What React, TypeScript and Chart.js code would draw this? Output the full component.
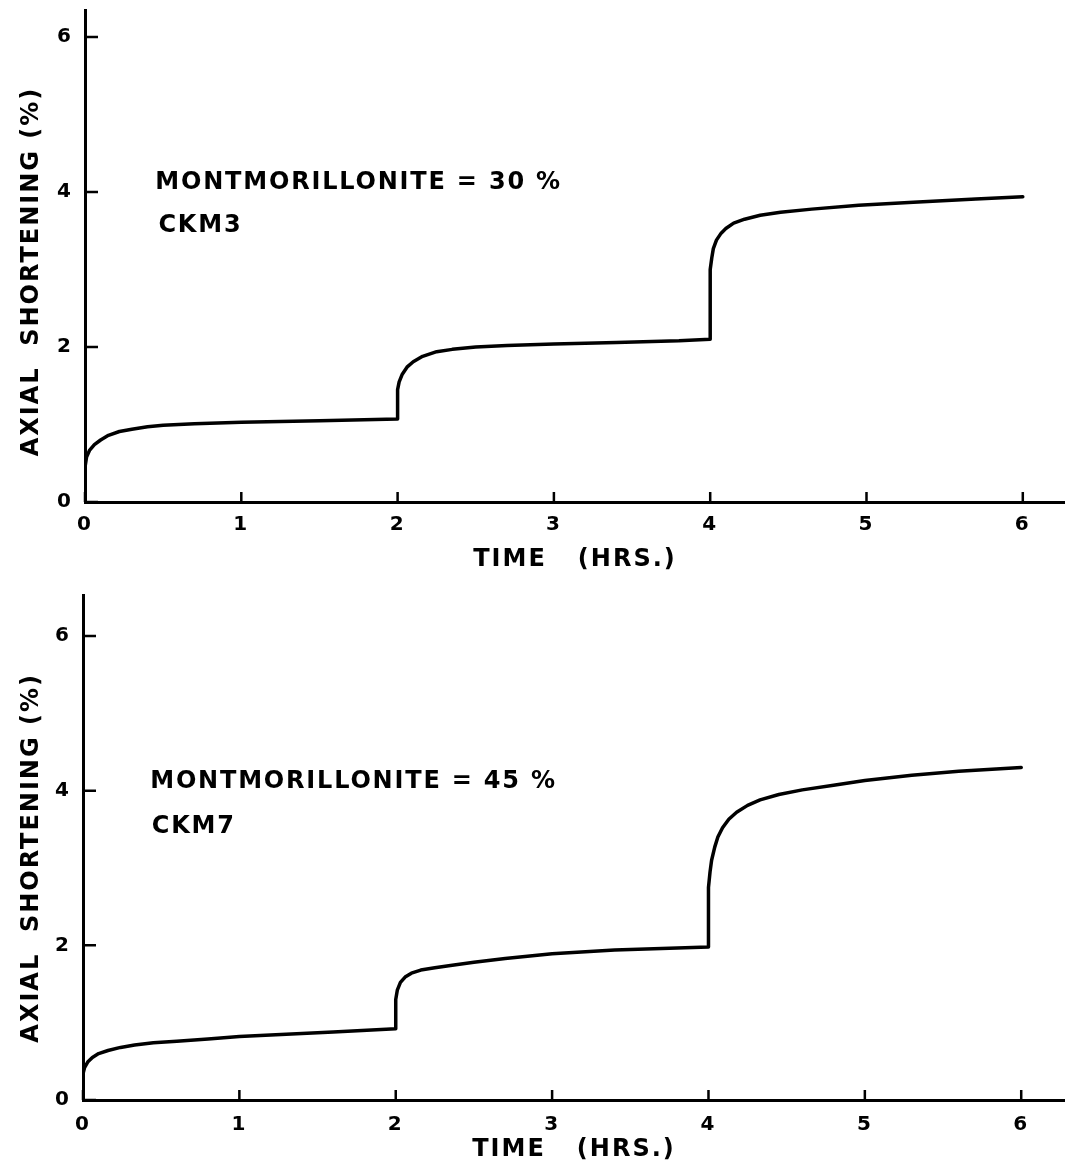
import React, { useEffect, useRef } from "react";
import { Chart, registerables } from "chart.js";

Chart.register(...registerables);

// ---------- data ----------
const X_TICKS = [0, 1, 2, 3, 4, 5, 6];
const Y_TICKS = [0, 2, 4, 6];
const X_TITLE_TOP = "TIME   (HRS.)";
const X_TITLE_BOTTOM = "TIME   (HRS.)";
const Y_TITLE_TOP = "AXIAL  SHORTENING (%)   ";
const Y_TITLE_BOTTOM = "AXIAL  SHORTENING (%)  ";

// CKM3, montmorillonite 30 %
const TIME_TOP = [
  0, 0.01, 0.03, 0.06, 0.1, 0.15, 0.22, 0.3, 0.4, 0.5, 0.7, 1.0, 1.5, 2.0,
  2.0, 2.01, 2.03, 2.06, 2.1, 2.16, 2.25, 2.35, 2.5, 2.7, 3.0, 3.4, 3.8, 4.0,
  4.0, 4.01, 4.02, 4.04, 4.07, 4.1, 4.15, 4.22, 4.32, 4.45, 4.65, 4.95, 5.3, 5.7, 6.0,
];
const SHORT_TOP = [
  0.45, 0.58, 0.67, 0.74, 0.8, 0.86, 0.91, 0.94, 0.97, 0.99, 1.01, 1.03, 1.05, 1.07,
  1.45, 1.55, 1.65, 1.74, 1.81, 1.88, 1.94, 1.97, 2.0, 2.02, 2.04, 2.06, 2.08, 2.1,
  3.0, 3.15, 3.27, 3.38, 3.47, 3.53, 3.6, 3.65, 3.7, 3.74, 3.78, 3.83, 3.87, 3.91, 3.94,
];

// CKM7, montmorillonite 45 %
const TIME_BOTTOM = [
  0, 0.01, 0.03, 0.06, 0.1, 0.16, 0.24, 0.33, 0.45, 0.6, 0.8, 1.0, 1.3, 1.6, 2.0,
  2.0, 2.01, 2.03, 2.06, 2.1, 2.16, 2.25, 2.35, 2.5, 2.7, 3.0, 3.4, 4.0,
  4.0, 4.01, 4.02, 4.04, 4.06, 4.09, 4.13, 4.18, 4.25, 4.33, 4.45, 4.6, 4.8, 5.0, 5.3, 5.6, 6.0,
];
const SHORT_BOTTOM = [
  0.34, 0.42, 0.49, 0.55, 0.6, 0.64, 0.68, 0.71, 0.74, 0.76, 0.79, 0.82, 0.85, 0.88, 0.92,
  1.3, 1.42, 1.52, 1.59, 1.64, 1.68, 1.71, 1.74, 1.78, 1.83, 1.89, 1.94, 1.98,
  2.75, 2.95, 3.1, 3.27, 3.4, 3.52, 3.63, 3.72, 3.81, 3.88, 3.95, 4.01, 4.07, 4.13, 4.2, 4.25, 4.3,
];

const NOTES_TOP = ["MONTMORILLONITE = 30 %", "CKM3"];
const NOTES_BOTTOM = ["MONTMORILLONITE = 45 %", "CKM7"];

// ---------- styling / layout ----------
const INK = "#000";
const FONT = '"DejaVu Sans", "Liberation Sans", sans-serif';

type Cfg = {
  height: number;
  padTop: number;
  yAxisWidth: number;
  xAxisHeight: number;
  xMax: number;
  yMax: number;
  xTickPad: number;
  xTitlePad: number;
  xTitle: string;
  yTitle: string;
  notePos: { x: number; y: number }[];
};

const CFG_TOP: Cfg = {
  height: 580,
  padTop: 10,
  yAxisWidth: 85,
  xAxisHeight: 78,
  xMax: 6.27,
  yMax: 6.35,
  xTickPad: 11,
  xTitlePad: 6,
  xTitle: X_TITLE_TOP,
  yTitle: Y_TITLE_TOP,
  notePos: [
    { x: 0.45, y: 4.12 },
    { x: 0.47, y: 3.56 },
  ],
};

const CFG_BOTTOM: Cfg = {
  height: 587,
  padTop: 15,
  yAxisWidth: 83,
  xAxisHeight: 67,
  xMax: 6.28,
  yMax: 6.53,
  xTickPad: 13,
  xTitlePad: 3,
  xTitle: X_TITLE_BOTTOM,
  yTitle: Y_TITLE_BOTTOM,
  notePos: [
    { x: 0.43, y: 4.11 },
    { x: 0.44, y: 3.53 },
  ],
};

function Panel({ time, shortening, notes, cfg }: { time: number[]; shortening: number[]; notes: string[]; cfg: Cfg }) {
  const ref = useRef<HTMLCanvasElement>(null);

  useEffect(() => {
    const canvas = ref.current;
    if (!canvas) return;
    const points = time.map((t, i) => ({ x: t, y: shortening[i] }));

    const decor = {
      id: "decor",
      beforeDraw(chart: any) {
        chart.ctx.letterSpacing = "2px";
      },
      afterDraw(chart: any) {
        const { ctx, chartArea, scales } = chart;
        ctx.save();
        ctx.strokeStyle = INK;
        ctx.lineWidth = 2.5;
        ctx.beginPath();
        for (const v of Y_TICKS) {
          const py = scales.y.getPixelForValue(v);
          ctx.moveTo(chartArea.left, py);
          ctx.lineTo(chartArea.left + 13, py);
        }
        for (const v of X_TICKS) {
          const px = scales.x.getPixelForValue(v);
          ctx.moveTo(px, chartArea.bottom);
          ctx.lineTo(px, chartArea.bottom - 10);
        }
        ctx.stroke();
        ctx.fillStyle = INK;
        ctx.font = `bold 24px ${FONT}`;
        ctx.textBaseline = "middle";
        ctx.textAlign = "left";
        ctx.letterSpacing = "1.8px";
        notes.forEach((n, i) => {
          const p = cfg.notePos[i];
          ctx.fillText(n, scales.x.getPixelForValue(p.x), scales.y.getPixelForValue(p.y));
        });
        ctx.restore();
        ctx.letterSpacing = "0px";
      },
    };

    const chart = new Chart(canvas, {
      type: "line",
      data: {
        datasets: [
          {
            data: points,
            borderColor: INK,
            borderWidth: 3.5,
            pointRadius: 0,
            tension: 0,
            fill: false,
            borderJoinStyle: "round",
            borderCapStyle: "round",
          },
        ],
      },
      options: {
        animation: false,
        responsive: false,
        devicePixelRatio: 1,
        layout: { padding: { top: cfg.padTop, right: 0, left: 0, bottom: 0 } },
        plugins: { legend: { display: false }, tooltip: { enabled: false } },
        scales: {
          x: {
            type: "linear",
            min: 0,
            max: cfg.xMax,
            afterFit: (s: any) => {
              s.height = cfg.xAxisHeight;
              s.paddingLeft = 0;
              s.paddingRight = 0;
            },
            afterBuildTicks: (s: any) => {
              s.ticks = X_TICKS.map((v) => ({ value: v }));
            },
            grid: { display: false, drawTicks: false },
            border: { display: true, color: INK, width: 3 },
            ticks: {
              color: INK,
              padding: cfg.xTickPad,
              font: { family: FONT, size: 20, weight: "bold" },
              maxRotation: 0,
              autoSkip: false,
            },
            title: {
              display: true,
              text: cfg.xTitle,
              color: INK,
              font: { family: FONT, size: 24, weight: "bold" },
              padding: { top: 0, bottom: cfg.xTitlePad },
            },
          },
          y: {
            type: "linear",
            min: 0,
            max: cfg.yMax,
            afterFit: (s: any) => {
              s.width = cfg.yAxisWidth;
              s.paddingTop = 0;
              s.paddingBottom = 0;
            },
            afterBuildTicks: (s: any) => {
              s.ticks = Y_TICKS.map((v) => ({ value: v }));
            },
            grid: { display: false, drawTicks: false },
            border: { display: true, color: INK, width: 3 },
            ticks: {
              color: INK,
              padding: 12,
              font: { family: FONT, size: 20, weight: "bold" },
            },
            title: {
              display: true,
              text: cfg.yTitle,
              color: INK,
              font: { family: FONT, size: 24, weight: "bold" },
              padding: { top: 17, bottom: 0 },
            },
          },
        },
      },
      plugins: [decor],
    } as any);

    return () => chart.destroy();
  }, []);

  return <canvas ref={ref} width={1065} height={cfg.height} style={{ display: "block", width: 1065, height: cfg.height }} />;
}

export default function App() {
  return (
    <div style={{ position: "absolute", left: 0, top: 0, width: 1065, height: 1167, background: "#fff" }}>
      <Panel time={TIME_TOP} shortening={SHORT_TOP} notes={NOTES_TOP} cfg={CFG_TOP} />
      <Panel time={TIME_BOTTOM} shortening={SHORT_BOTTOM} notes={NOTES_BOTTOM} cfg={CFG_BOTTOM} />
    </div>
  );
}
